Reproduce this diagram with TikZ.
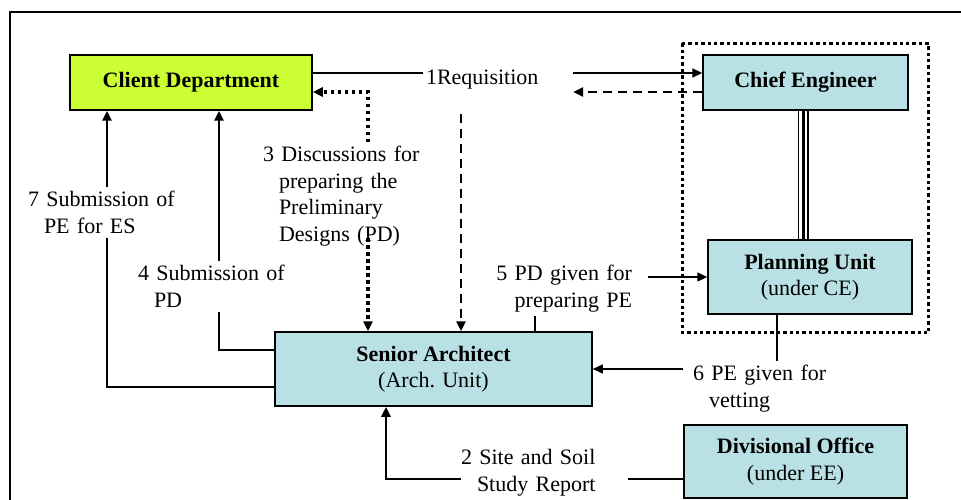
\documentclass[tikz,border=0pt]{standalone}
\usepackage{fontspec}
\setmainfont{Liberation Serif}
\usepackage{tikz}
\usetikzlibrary{positioning}
\usetikzlibrary {arrows.meta}
\definecolor{clientfill}{RGB}{204,255,51}
\definecolor{unitfill}{RGB}{185,224,228}
\tikzset{office/.style={rectangle,draw=black,fill=unitfill,line width=1.5pt,
inner sep=2pt,align=center}}
\tikzset{flowtext/.style={inner xsep=0pt,inner ysep=4pt,align=left,anchor=north}}
\tikzset{flowline/.style={line width=2.8pt}}
\tikzset{thinflow/.style={line width=1.4pt}}
\tikzset{dashline/.style={line width=2.8pt,dash pattern=on 9pt off 6pt}}
\tikzset{dotline/.style={line width=3.2pt,dash pattern=on 3.2pt off 3.8pt}}
\tikzset{groupline/.style={line width=3.4pt,dash pattern=on 3.4pt off 3pt}}
\tikzset{flowtip/.style={-{Triangle[length=10pt,width=9pt]}}}
\newcommand{\flowindent}{\hspace*{16pt}}

\begin{document}
\begin{tikzpicture}[x=1pt,y=-1pt,every node/.style={font=\fontsize{22}{26.5}\selectfont}]
        \useasboundingbox (0,0) rectangle (961,500);
        \draw[line width=1.6pt] (10,500) -- (10,12) -- (961,12);

        \node[office,fill=clientfill,minimum width=242pt,minimum height=55pt] (client) at (191,82.5) {\textbf{Client Department}};
        \node[office,minimum width=205pt,minimum height=55pt] (ce) at (805.5,82.5) {\textbf{Chief Engineer}};
        \node[office,minimum width=204pt,minimum height=74pt] (pu) at (810,277) {\textbf{Planning Unit}\\(under CE)};
        \node[office,minimum width=317pt,minimum height=74pt] (sa) at (433.5,369) {\textbf{Senior Architect}\\(Arch. Unit)};
        \node[office,minimum width=223pt,minimum height=73pt] (do) at (795.5,461.5) {\textbf{Divisional Office}\\(under EE)};

        \draw[line width=1.3pt,double distance=8.4pt] ([xshift=-2.5pt]ce.south) -- ([xshift=-2.5pt]ce.south |- pu.north);
        \draw[line width=3pt] ([xshift=-2.5pt]ce.south) -- ([xshift=-2.5pt]ce.south |- pu.north);

        \node[flowtext,inner xsep=3pt,text width=144pt] (req) at (498,65.3) {1Requisition};
        \draw[line width=2.2pt] ([yshift=9.5pt]client.east) coordinate (reqin) -- (reqin -| req.west);
        \draw[line width=2.2pt,flowtip] (reqin -| req.east) -- (reqin -| ce.west);
        \draw[dashline,flowtip] ([yshift=-9.5pt]ce.west) coordinate (reqback) -- (reqback -| req.east);
        \coordinate (reqdrop) at (461,114);
        \draw[dashline,flowtip] (reqdrop) -- (reqdrop |- sa.north);

        \node[flowtext,text width=167pt] (site) at (544.5,445.3) {2 Site and Soil\\\flowindent Study Report};
        \draw[flowline] ([yshift=-17.5pt]do.west) coordinate (sitein) -- (sitein -| site.east);
        \draw[flowline,flowtip] (sitein -| site.west) -| ([xshift=-47.5pt]sa.south);

        \node[flowtext,text width=210pt] (disc) at (368,142.3) {3 Discussions for\\\flowindent preparing the\\\flowindent Preliminary\\\flowindent Designs (PD)};
        \draw[dotline,flowtip] (disc.north) |- ([yshift=-9.5pt]client.east);
        \draw[dotline,flowtip] ([yshift=12pt]disc.south) -- (disc.south |- sa.north);

        \node[flowtext,text width=162pt] (subpd) at (219,261.3) {4 Submission of\\\flowindent PD};
        \draw[flowline,flowtip] (subpd.north) -- (subpd.north |- client.south);
        \draw[flowline] ([yshift=19pt]sa.west) -| (subpd.south);

        \node[flowtext,inner xsep=16pt,text width=194pt,align=right] (pdpe) at (535,261.3) {5 PD given for\\preparing PE};
        \draw[thinflow] (pdpe.south) -- (pdpe.south |- sa.north);
        \draw[thinflow,flowtip] (pdpe.east |- pu.west) -- (pu.west);

        \node[flowtext,inner xsep=10pt,text width=168pt] (vet) at (777,361.3) {6 PE given for\\\flowindent vetting};
        \draw[thinflow] (vet.north) -- (vet.north |- pu.south);
        \draw[thinflow,flowtip] (vet.west |- sa.east) -- (sa.east);

        \node[flowtext,text width=158pt] (subpe) at (107,187.3) {7 Submission of\\\flowindent PE for ES};
        \draw[flowline,flowtip] (subpe.north) -- (subpe.north |- client.south);
        \draw[flowline] ([yshift=-18pt]sa.west) -| (subpe.south);

        \draw[groupline] ([xshift=-20pt,yshift=11pt]ce.north west) rectangle ([xshift=16pt,yshift=-18pt]pu.south east);

    \end{tikzpicture}
\end{document}
